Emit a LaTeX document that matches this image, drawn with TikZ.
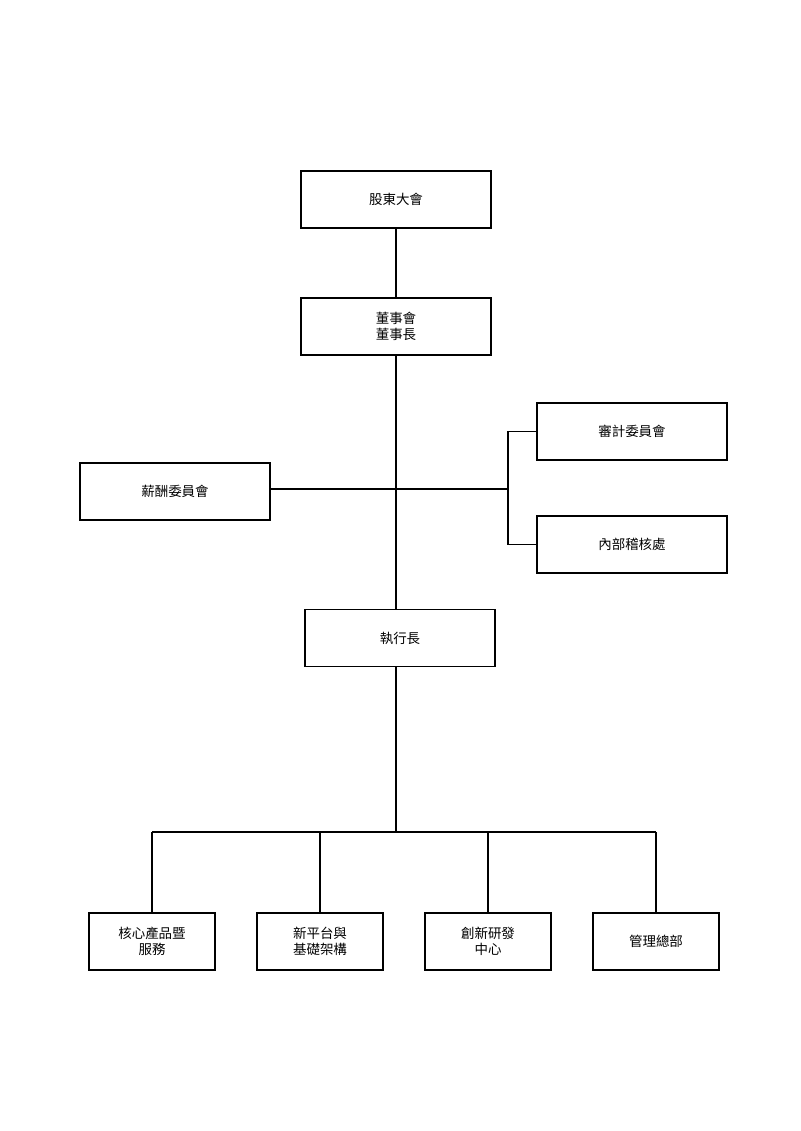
\documentclass[tikz,border=0pt]{standalone}
\usepackage{fontspec}
\setmainfont{Noto Sans CJK TC}
\usetikzlibrary{positioning}
\tikzset{
	box/.style={draw, line width=1.2pt, minimum width=5.7cm, minimum height=1.71cm, align=center, font=\fontsize{11.5}{14}\selectfont},
	sbox/.style={box, minimum width=3.78cm},
	link/.style={line width=1.2pt}
}
\begin{document}
\begin{tikzpicture}[x=0.03cm, y=-0.03cm]
	\useasboundingbox (0,0) rectangle (800,1131);
	\node[box] (gd) at (396,199.5) {股東大會};
	\node[box] (bd) at (396,326.5) {董事會\\董事長};
	\node[box] (sj) at (632,431.5) {審計委員會};
	\node[box] (xc) at (175,491.5) {薪酬委員會};
	\node[box] (nb) at (632,544.5) {內部稽核處};
	\node[box] (ceo) at (400,638) {執行長};
	\node[sbox] (hx) at (152,941.5) {核心產品暨\\服務};
	\node[sbox] (xp) at (320,941.5) {新平台與\\基礎架構};
	\node[sbox] (cx) at (488,941.5) {創新研發\\中心};
	\node[sbox] (gl) at (656,941.5) {管理總部};

	\coordinate (mid) at (396,489);
	\coordinate (br) at (508,489);
	\coordinate (bus) at (396,832);

	\draw[link] (gd) -- (bd);
	\draw[link] (bd.south) -- (bd.south |- ceo.north);
	\draw[link] (xc.east |- mid) -- (br);
	\draw[link] (sj.west) -- (br |- sj.west) -- (br |- nb.west) -- (nb.west);
	\draw[link] (ceo.south -| bus) -- (bus);
	\draw[link] (hx.north |- bus) -- (gl.north |- bus);
	\foreach \Nodo in {hx,xp,cx,gl}
		\draw[link] (\Nodo.north |- bus) -- (\Nodo.north);
\end{tikzpicture}
\end{document}
